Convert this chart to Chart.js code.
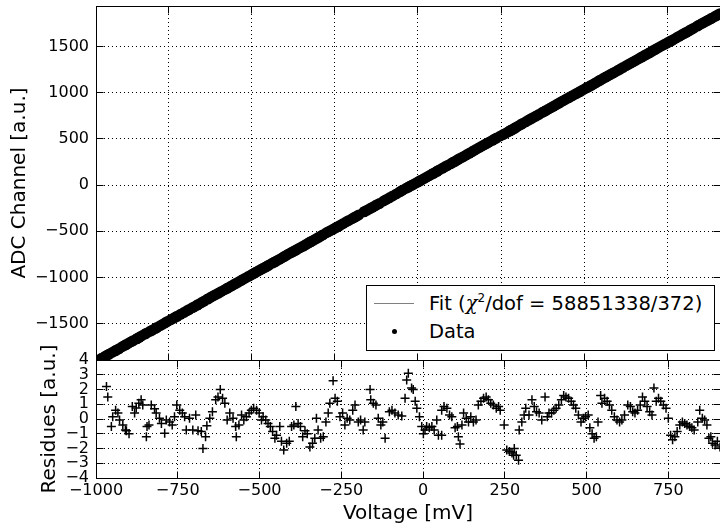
<!DOCTYPE html>
<html>
<head>
<meta charset="utf-8">
<script src="https://cdn.jsdelivr.net/npm/chart.js@4.4.0/dist/chart.umd.min.js"></script>
<style>
body { margin: 0; width: 720px; height: 526px; background: #fff; overflow: hidden; position: relative; font-family: "DejaVu Sans", sans-serif; }
#top-chart { position: absolute; left: 0; top: 0; }
#bottom-chart { position: absolute; left: 0; top: 330px; }
#legend { position: absolute; left: 366px; top: 285px; width: 347px; height: 64px; border: 1px solid #000; background: #fff; z-index: 5; color: #000; font-size: 19.5px; }
#legend .row { position: absolute; left: 62px; height: 24px; line-height: 24px; white-space: nowrap; }
#legend .chi { font-family: "DejaVu Serif", serif; font-style: italic; }
#legend sup { font-size: 12px; vertical-align: 8px; line-height: 0; }
#legend .fit-line { position: absolute; left: 7px; top: 17px; width: 40px; height: 1px; background: #808080; }
#legend .dot { position: absolute; left: 25px; top: 43px; width: 5px; height: 5px; border-radius: 50%; background: #000; }
</style>
</head>
<body>
<canvas id="top-chart" width="720" height="362"></canvas>
<canvas id="bottom-chart" width="720" height="196"></canvas>
<div id="legend">
  <div class="fit-line"></div>
  <div class="row" style="top:6px">Fit (<span class="chi">χ</span><sup>2</sup>/dof = 58851338/372)</div>
  <div class="dot"></div>
  <div class="row" style="top:34px">Data</div>
</div>
<script>
// voltage of each point [mV]
var voltage = [
  -968, -964, -953, -949, -940, -933, -928, -918, -910, -907, -899, -889, -882, -877, -869, -862, -857, -846, -844, -838,
  -831, -821, -816, -806, -800, -790, -785, -775, -767, -760, -753, -744, -736, -729, -724, -714, -704, -695, -688, -678,
  -673, -665, -661, -652, -644, -634, -627, -620, -613, -606, -599, -591, -581, -573, -571, -563, -555, -548, -540, -532,
  -525, -518, -509, -501, -494, -489, -481, -474, -467, -460, -453, -448, -438, -433, -426, -417, -409, -402, -395, -389,
  -382, -375, -368, -361, -354, -346, -338, -331, -326, -321, -313, -305, -297, -290, -285, -275, -269, -262, -254, -246,
  -239, -232, -224, -215, -208, -198, -191, -183, -178, -162, -160, -152, -144, -137, -129, -123, -116, -103, -95, -86,
  -76, -65, -55, -50, -45, -35, -30, -24, -19, -11, -4, 1, 6, 11, 19, 27, 34, 42, 47, 57,
  57, 64, 73, 81, 88, 98, 105, 108, 113, 119, 124, 132, 139, 146, 154, 162, 169, 177, 185, 193,
  200, 207, 215, 224, 231, 236, 248, 256, 264, 272, 277, 279, 285, 292, 294, 302, 309, 314, 324, 333,
  340, 347, 355, 363, 373, 380, 385, 393, 400, 407, 415, 423, 430, 437, 445, 453, 460, 467, 475, 483,
  490, 497, 505, 510, 517, 523, 530, 535, 543, 547, 555, 563, 570, 577, 585, 593, 601, 608, 616, 626,
  634, 641, 648, 656, 664, 671, 678, 685, 693, 700, 706, 713, 720, 727, 735, 743, 750, 757, 763, 770,
  777, 785, 793, 800, 807, 815, 822, 829, 840, 846, 854, 861, 868, 874, 880, 885, 893, 900, 908
];
// residues [a.u.]
var residues = [
  2.2, 1.5, -0.5, 0.15, 0.6, 0.4, -0.07, -0.4, -0.75, -0.8, -1.0, 0.85, 0.4, 0.75, 1.07, 1.3, 0.95, -1.2, -0.5, -0.4,
  0.95, 0.7, 0.4, 0.05, -0.3, -0.97, -0.07, -0.2, -0.4, 0.15, 0.95, 0.6, 0.4, 0.15, -0.75, 0.05, -0.75, 0.27, -0.8, -0.85,
  -2.0, -1.2, -0.45, 0.05, 0.5, 1.3, 1.5, 2.0, 1.4, 1.07, -0.07, 0.4, 0.05, -0.5, -1.2, -0.4, 0.27, -0.07, 0.15, 0.4,
  0.6, 0.73, 0.6, 0.4, -0.07, 0.15, -0.07, -0.3, -0.5, -0.85, -1.3, -1.1, -0.5, -1.5, -2.1, -1.65, -1.5, -0.5, -0.4, 0.85,
  -0.3, -0.5, -1.2, -0.8, -1.0, -1.9, -1.65, -1.3, 0.05, -0.75, -1.3, -1.2, -0.2, 0.4, 1.07, 2.6, 1.4, 1.2, 0.15, 0.4,
  -0.4, 0.05, -0.07, 0.6, 0.95, -0.2, -0.07, -0.75, -0.2, 2.0, 1.3, 1.07, 0.95, 0.05, -0.4, -0.2, -1.3, 0.5, 0.6, 0.4,
  0.27, 0.2, 1.4, 2.65, 3.1, 2.1, 2.0, 1.2, 0.73, 0.15, -0.5, -1.0, -0.75, -0.5, -0.6, -0.5, -0.75, -0.07, -1.1, -1.1,
  0.6, 0.85, 0.73, 0.27, 0.15, -0.6, -0.5, -1.2, -1.7, -0.4, 0.4, 0.05, -0.2, 0.15, -0.2, -0.07, 0.95, 1.2, 1.4, 1.5,
  1.3, 1.07, 0.95, 0.73, 0.85, 0.6, -0.4, -2.1, -2.2, -2.3, -2.45, -2.0, -2.45, -2.8, -0.75, -0.2, 0.27, 0.73, 0.27, 1.3,
  0.85, 0.5, 0.4, -0.07, 1.5, 0.15, 0.4, 0.4, 0.6, 0.73, 0.95, 1.3, 1.6, 1.5, 1.4, 1.2, 0.95, 0.73, 0.27, -0.2,
  0.05, 0.15, 0.27, -0.6, -1.0, -1.3, -1.2, -0.2, 1.6, 1.07, 1.4, 1.2, 0.95, 0.6, 0.15, -0.07, -0.2, -0.07, 0.27, 0.95,
  0.85, 0.5, 0.4, 0.6, 0.95, 1.5, 1.2, 0.85, 0.5, 0.27, 2.1, 1.2, 1.4, 1.2, 0.95, 0.73, 0.05, -1.1, -1.4, -1.2,
  -0.85, -0.4, -0.2, -0.3, -0.4, -0.5, -0.6, -0.75, -0.2, 0.6, 0.05, -0.07, -0.4, -1.3, -1.2, -1.65, -1.77, -1.5, -1.9
];

// linear fit ADC = fitSlope * voltage + fitOffset
var fitSlope = 2.01;
var fitOffset = 35;
var fitLabel = 'Fit (\u03c7\u00b2/dof = 58851338/372)';

// tick values
var voltageTicks = [-1000, -750, -500, -250, 0, 250, 500, 750];
var adcTicks = [-1500, -1000, -500, 0, 500, 1000, 1500];
var residueTicks = [-4, -3, -2, -1, 0, 1, 2, 3, 4];

// axis limits
var adcMin = -1895, adcMax = 1941;
var residueMin = -4, residueMax = 4;
var voltageAxisMin = -1000;

Chart.defaults.font.family = '"DejaVu Sans", sans-serif';
Chart.defaults.color = '#000';

function minusSign(value) {
    return String(value).replace('-', '\u2212');
}

function fixedTicks(values) {
    return function (scale) {
        scale.ticks = values
            .filter(function (v) { return v >= scale.min && v <= scale.max; })
            .map(function (v) { return { value: v }; });
    };
}

// fixed axis box, no extra padding for the outer labels
function fixWidth(w) {
    return function (s) {
        s.width = w;
        s.paddingTop = 0; s.paddingBottom = 0;
    };
}
function fixHeight(h) {
    return function (s) {
        s.height = h;
        s.paddingLeft = 0; s.paddingRight = 0;
    };
}

// matplotlib style frame with ticks pointing inwards
var frameTicks = {
    id: 'frameTicks',
    afterDraw: function (chart) {
        var ctx = chart.ctx;
        var area = chart.chartArea;
        var left = Math.round(area.left - 0.5) + 0.5;
        var right = Math.round(area.right) + 0.5;
        var top = Math.round(area.top - 0.5) + 0.5;
        var bottom = Math.round(area.bottom - 0.5) + 0.5;
        var len = 7;
        ctx.save();
        ctx.strokeStyle = '#000';
        ctx.lineWidth = 1;
        ctx.beginPath();
        chart.scales.x.ticks.forEach(function (t) {
            var px = Math.round(chart.scales.x.getPixelForValue(t.value) - 0.5) + 0.5;
            ctx.moveTo(px, top); ctx.lineTo(px, top + len);
            ctx.moveTo(px, bottom); ctx.lineTo(px, bottom - len);
        });
        chart.scales.y.ticks.forEach(function (t) {
            var py = Math.round(chart.scales.y.getPixelForValue(t.value) - 0.5) + 0.5;
            ctx.moveTo(left, py); ctx.lineTo(left + len, py);
            ctx.moveTo(right, py); ctx.lineTo(right - len, py);
        });
        ctx.stroke();
        ctx.strokeRect(left, top, right - left, bottom - top);
        ctx.restore();
    }
};

var dottedGrid = { color: '#000', lineWidth: 1, drawTicks: false };
var dottedBorder = { display: false, dash: [1, 3] };

// top panel: data and fit
var dataPoints = voltage.map(function (v, i) {
    return { x: v, y: fitSlope * v + fitOffset + residues[i] };
});
var vFirst = voltage[0], vLast = voltage[voltage.length - 1];
var fitPoints = [
    { x: vFirst, y: fitSlope * vFirst + fitOffset },
    { x: vLast, y: fitSlope * vLast + fitOffset }
];

new Chart(document.getElementById('top-chart'), {
    type: 'scatter',
    data: {
        datasets: [{
            label: fitLabel,
            data: fitPoints,
            type: 'line',
            showLine: true,
            borderColor: '#808080',
            borderWidth: 1,
            pointRadius: 0,
            order: 2
        }, {
            label: 'Data',
            data: dataPoints,
            backgroundColor: '#000',
            borderWidth: 0,
            pointRadius: 5.5,
            order: 1
        }]
    },
    options: {
        responsive: false,
        animation: false,
        layout: { autoPadding: false, padding: { top: 6, right: 0, bottom: 2, left: 0 } },
        plugins: { legend: { display: false }, tooltip: { enabled: false } },
        scales: {
            x: {
                type: 'linear',
                min: vFirst,
                max: vLast,
                afterBuildTicks: fixedTicks(voltageTicks),
                afterFit: fixHeight(0),
                ticks: { display: false },
                grid: dottedGrid,
                border: dottedBorder
            },
            y: {
                min: adcMin,
                max: adcMax,
                afterBuildTicks: fixedTicks(adcTicks),
                afterFit: fixWidth(96),
                ticks: {
                    autoSkip: false, padding: 7,
                    font: { size: 16 },
                    callback: function (v) { return minusSign(v); }
                },
                grid: dottedGrid,
                border: dottedBorder,
                title: { display: true, text: 'ADC Channel [a.u.]', font: { size: 20 }, padding: { top: 8, bottom: 0 } }
            }
        }
    },
    plugins: [frameTicks]
});

// bottom panel: residues
var residuePoints = voltage.map(function (v, i) {
    return { x: v, y: residues[i] };
});

new Chart(document.getElementById('bottom-chart'), {
    type: 'scatter',
    data: {
        datasets: [{
            label: 'Residues',
            data: residuePoints,
            pointStyle: 'cross',
            pointRadius: 4.5,
            borderColor: '#000',
            borderWidth: 1.5
        }]
    },
    options: {
        responsive: false,
        animation: false,
        layout: { autoPadding: false, padding: { top: 30, right: 0, bottom: 0, left: 0 } },
        plugins: { legend: { display: false }, tooltip: { enabled: false } },
        scales: {
            x: {
                type: 'linear',
                min: voltageAxisMin,
                max: vLast,
                afterBuildTicks: fixedTicks(voltageTicks),
                afterFit: fixHeight(48),
                ticks: {
                    autoSkip: false, padding: 3, maxRotation: 0,
                    font: { size: 16 },
                    callback: function (v) { return minusSign(v); }
                },
                grid: dottedGrid,
                border: dottedBorder,
                title: { display: true, text: 'Voltage [mV]', font: { size: 20 }, padding: { top: 0, bottom: 0 } }
            },
            y: {
                min: residueMin,
                max: residueMax,
                afterBuildTicks: fixedTicks(residueTicks),
                afterFit: fixWidth(96),
                ticks: {
                    autoSkip: false, padding: 7,
                    font: { size: 16 },
                    callback: function (v) { return minusSign(v); }
                },
                grid: dottedGrid,
                border: dottedBorder,
                title: { display: true, text: 'Residues [a.u.]', font: { size: 20 }, padding: { top: 38, bottom: 0 } }
            }
        }
    },
    plugins: [frameTicks]
});
</script>
</body>
</html>
